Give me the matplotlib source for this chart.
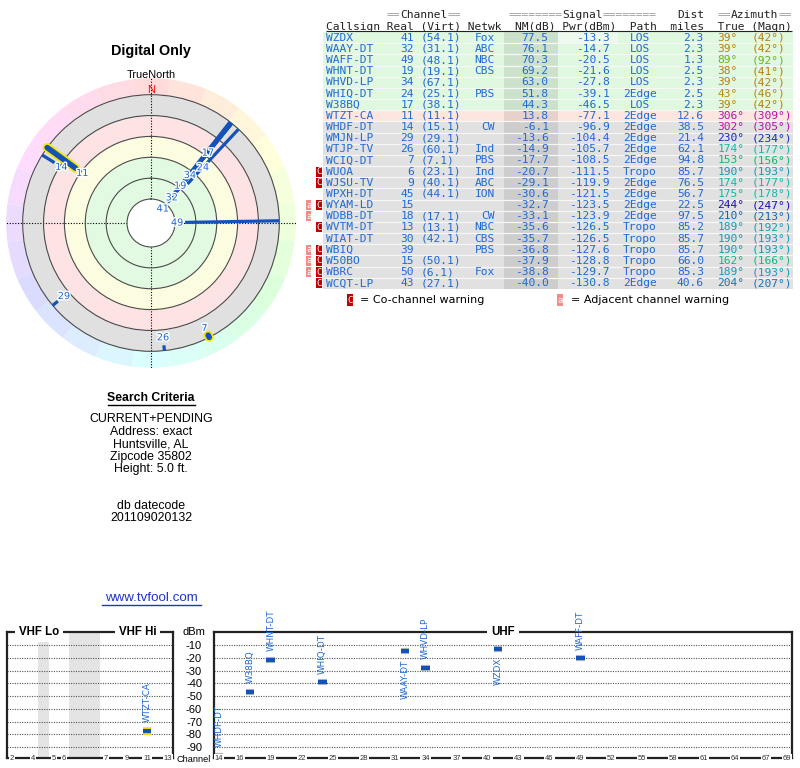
import colorsys
import numpy as np
import matplotlib
matplotlib.use('Agg')
import matplotlib.pyplot as plt
import matplotlib.patheffects as pe
from matplotlib.colors import to_rgb
from matplotlib.lines import Line2D

# Datos de la tabla (tvfool, Huntsville AL)
callsigns = ['WZDX', 'WAAY-DT', 'WAFF-DT', 'WHNT-DT', 'WHVD-LP', 'WHIQ-DT', 'W38BQ',
             'WTZT-CA', 'WHDF-DT', 'WMJN-LP', 'WTJP-TV', 'WCIQ-DT', 'WUOA', 'WJSU-TV',
             'WPXH-DT', 'WYAM-LD', 'WDBB-DT', 'WVTM-DT', 'WIAT-DT', 'WBIQ', 'W50BO',
             'WBRC', 'WCQT-LP']
real_ch = [41, 32, 49, 19, 34, 24, 17, 11, 14, 29, 26, 7, 6, 9, 45, 15, 18, 13, 30, 39, 15, 50, 43]
virt_ch = ['54.1', '31.1', '48.1', '19.1', '67.1', '25.1', '38.1', '11.1', '15.1', '29.1', '60.1',
           '7.1', '23.1', '40.1', '44.1', '', '17.1', '13.1', '42.1', '', '50.1', '6.1', '27.1']
networks = ['Fox', 'ABC', 'NBC', 'CBS', '', 'PBS', '', '', 'CW', '', 'Ind', 'PBS', 'Ind', 'ABC',
            'ION', '', 'CW', 'NBC', 'CBS', 'PBS', '', 'Fox', '']
nm_db = [77.5, 76.1, 70.3, 69.2, 63.0, 51.8, 44.3, 13.8, -6.1, -13.6, -14.9, -17.7, -20.7, -29.1,
         -30.6, -32.7, -33.1, -35.6, -35.7, -36.8, -37.9, -38.8, -40.0]
pwr_dbm = [-13.3, -14.7, -20.5, -21.6, -27.8, -39.1, -46.5, -77.1, -96.9, -104.4, -105.7, -108.5,
           -111.5, -119.9, -121.5, -123.5, -123.9, -126.5, -126.5, -127.6, -128.8, -129.7, -130.8]
path = ['LOS', 'LOS', 'LOS', 'LOS', 'LOS', '2Edge', 'LOS', '2Edge', '2Edge', '2Edge', '2Edge',
        '2Edge', 'Tropo', '2Edge', '2Edge', '2Edge', '2Edge', 'Tropo', 'Tropo', 'Tropo', 'Tropo',
        'Tropo', '2Edge']
dist_mi = [2.3, 2.3, 1.3, 2.5, 2.3, 2.5, 2.3, 12.6, 38.5, 21.4, 62.1, 94.8, 85.7, 76.5, 56.7,
           22.5, 97.5, 85.2, 85.7, 85.7, 66.0, 85.3, 40.6]
az_true = [39, 39, 89, 38, 39, 43, 39, 306, 302, 230, 174, 153, 190, 174, 175, 244, 210, 189,
           190, 190, 162, 189, 204]
az_magn = [42, 42, 92, 41, 42, 46, 42, 309, 305, 234, 177, 156, 193, 177, 178, 247, 213, 192,
           193, 193, 166, 193, 207]
co_channel = ['WUOA', 'WJSU-TV', 'WYAM-LD', 'WVTM-DT', 'WBIQ', 'W50BO', 'WBRC', 'WCQT-LP']
adjacent = ['WYAM-LD', 'WDBB-DT', 'WBIQ', 'W50BO', 'WBRC']

dbm_ticks = [-10, -20, -30, -40, -50, -60, -70, -80, -90]
vhf_ticks = [2, 4, 5, 6, 7, 9, 11, 13]
uhf_ticks = [14, 16, 19, 22, 25, 28, 31, 34, 37, 40, 43, 46, 49, 52, 55, 58, 61, 64, 67, 69]

criteria = ['CURRENT+PENDING', 'Address: exact', 'Huntsville, AL', 'Zipcode 35802',
            'Height: 5.0 ft.']
datecode = '201109020132'

W, H = 800, 768
BLUE = '#1f6ad4'
MONO = 'DejaVu Sans Mono'
plt.rcParams['font.family'] = ['Liberation Sans', 'DejaVu Sans']
plt.rcParams['axes.unicode_minus'] = False


def px_box(l, t, r, b):
    return [l / W, 1 - b / H, (r - l) / W, (b - t) / H]


def ftext(x, y, s, **kw):
    return fig.text(x / W, 1 - y / H, s, **kw)


def az_color(az, s=0.9, v=0.72):
    return colorsys.hsv_to_rgb((az % 360) / 360.0, s, v)


def row_color(nm):
    if nm >= 40:
        return '#e0f7e0'
    if nm >= 20:
        return '#fbfbdc'
    if nm >= 0:
        return '#fde6e0'
    return '#e1e1e1'


def vhf_slot(ch):
    if ch <= 4:
        return ch - 2 + 0.5
    if ch <= 6:
        return ch - 5 + 4.5
    return ch - 7 + 9.5


fig = plt.figure(figsize=(W / 100, H / 100), dpi=100)

# ---- radar ----
ftext(151, 51, 'Digital Only', ha='center', va='center', fontsize=10.4, fontweight='bold')
ftext(151, 75, 'TrueNorth', ha='center', va='center', fontsize=7.8)

ax = fig.add_axes(px_box(6, 78, 296, 368), projection='polar')
ax.set_theta_zero_location('N')
ax.set_theta_direction(-1)
ax.set_ylim(-80, 36)
ax.set_rorigin(-103)
th = np.linspace(0, 2 * np.pi, 361)
for lo, hi, c in [(-80, -40, '#e2fae2'), (-40, -20, '#fcfce0'), (-20, 0, '#fde3e3'), (0, 20, '#e0e0e0')]:
    ax.fill_between(th, lo, hi, color=c, lw=0, zorder=0.3)
seg = np.arange(0, 360, 15)
ax.bar(np.deg2rad(seg), 16, width=np.deg2rad(15), bottom=20,
       color=[az_color(a, 0.14, 1.0) for a in seg], lw=0, zorder=0.3)
ax.set_xticks(np.deg2rad([0, 90, 180, 270]))
ax.set_xticklabels([])
ax.set_yticks([-60, -40, -20, 0, 20])
ax.set_yticklabels([])
ax.xaxis.grid(True, color='black', lw=0.8, ls=(0, (1, 1.5)))
ax.yaxis.grid(True, color='#4a4a4a', lw=0.8)
ax.spines['polar'].set_visible(False)
ax.spines['inner'].set_color('#4a4a4a')
ax.spines['inner'].set_linewidth(0.8)
ax.text(0, 24.5, 'N', color='red', ha='center', va='center', fontsize=8)

# lineas por estacion (solo las que pasan el circulo exterior)
drawn = sorted([i for i in range(len(callsigns)) if nm_db[i] > -20], key=lambda i: -nm_db[i])
placed = []
for i in drawn:
    t = np.deg2rad(az_true[i])
    r_in = -nm_db[i]
    if real_ch[i] <= 13:
        fx = [pe.Stroke(linewidth=6.5, foreground='#f4e600'), pe.Normal()]
        ax.plot([t, t], [r_in, 20], color='#1452b8', lw=4, solid_capstyle='round',
                path_effects=fx, zorder=4)
    else:
        ax.plot([t, t], [r_in, 20], color='#1452b8', lw=2.3, solid_capstyle='butt', zorder=4)
    r_lab = r_in - 7.7
    for a_prev, r_prev in placed:
        if abs(a_prev - az_true[i]) < 10 and r_lab < r_prev + 13.8:
            r_lab = r_prev + 13.8
    placed.append((az_true[i], r_lab))
    ax.text(t, r_lab, str(real_ch[i]), color=BLUE, ha='center', va='center', fontsize=7,
            family='DejaVu Sans', zorder=5,
            path_effects=[pe.withStroke(linewidth=2, foreground='white')])

# ---- criterios de busqueda ----
ftext(151, 398, 'Search Criteria', ha='center', va='center', fontsize=8.8, fontweight='bold')
fig.add_artist(Line2D([108 / W, 195 / W], [1 - 405 / H, 1 - 405 / H], color='black', lw=1))
for k, line in enumerate(criteria):
    ftext(151, 419.5 + 12.4 * k, line, ha='center', va='center', fontsize=8.9)
ftext(151, 506, 'db datecode', ha='center', va='center', fontsize=8.9)
ftext(151, 518, datecode, ha='center', va='center', fontsize=8.9)
ftext(151, 598, 'www.tvfool.com', ha='center', va='center', fontsize=9.6, color='#2233cc')
fig.add_artist(Line2D([102 / W, 201 / W], [1 - 604.5 / H, 1 - 604.5 / H], color='#2233cc', lw=1))

# ---- tabla ----
tab = fig.add_axes(px_box(304.4, 7.57, 793, 306.7))
tab.set_xlim(-3.2, 69.2)
tab.set_ylim(24.1, -2.7)
tab.axis('off')
rows = np.arange(len(callsigns))
row_bg = [row_color(v) for v in nm_db]
tab.barh(rows, 69.7, left=-0.5, height=1.0, color=row_bg, lw=0)
tab.barh(rows, 8.0, left=26.4, height=1.0,
         color=[tuple(0.91 * v for v in to_rgb(c)) for c in row_bg], lw=0)
tab.barh(0, 8.9, left=34.4, height=1.0, color='#eef9ee', lw=0)
tab.hlines(rows[:-1] + 0.5, -0.5, 69.2, color='#f7f7f7', lw=0.9)

tk = dict(family=MONO, fontsize=8.07, va='center')
GR, DK = '#9a9a9a', '#222222'
for col, s, c in [(9, '==', GR), (11, 'Channel', DK), (18, '==', GR), (27, '========', GR),
                  (35, 'Signal', DK), (41, '========', GR), (52, 'Dist', DK), (58, '==', GR),
                  (60, 'Azimuth', DK), (67, '==', GR)]:
    tab.text(col, -2, s, color=c, ha='left', **tk)
tab.text(0, -1, 'Callsign Real (Virt) Netwk  NM(dB) Pwr(dBm)  Path  miles  True (Magn)',
         color=DK, ha='left', **tk)
tab.hlines(-0.6, 0, 69, color=DK, lw=0.8)

for i in rows:
    tab.text(0, i, callsigns[i], color=BLUE, ha='left', **tk)
    tab.text(13, i, str(real_ch[i]), color=BLUE, ha='right', **tk)
    if virt_ch[i]:
        tab.text(14, i, '(' + virt_ch[i] + ')', color=BLUE, ha='left', **tk)
    tab.text(25, i, networks[i], color=BLUE, ha='right', **tk)
    tab.text(33, i, f'{nm_db[i]:.1f}', color=BLUE, ha='right', **tk)
    tab.text(42, i, f'{pwr_dbm[i]:.1f}', color=BLUE, ha='right', **tk)
    tab.text(46.5, i, path[i], color=BLUE, ha='center', **tk)
    tab.text(56, i, f'{dist_mi[i]:.1f}', color=BLUE, ha='right', **tk)
    c = az_color(az_true[i])
    tab.text(58, i, f'{az_true[i]}°', color=c, ha='left', **tk)
    tab.text(63, i, f'({az_magn[i]}°)', color=c, ha='left', **tk)

wk = dict(family=MONO, fontsize=6.5, color='white', ha='center', va='center')
co_rows = [callsigns.index(s) for s in co_channel]
adj_rows = [callsigns.index(s) for s in adjacent]
tab.barh(co_rows, 0.85, left=-1.45, height=0.9, color='#c40000', lw=0)
tab.barh(adj_rows, 0.8, left=-2.95, height=0.9, color='#f58a8a', lw=0)
for r in co_rows:
    tab.text(-1.03, r, 'C', **wk)
for r in adj_rows:
    tab.text(-2.55, r, 'a', **wk)

tab.barh(23.5, 0.93, left=3.07, height=1.0, color='#c40000', lw=0)
tab.text(3.53, 23.5, 'C', **wk)
tab.text(5.0, 23.5, '= Co-channel warning', family='DejaVu Sans', fontsize=8, va='center')
tab.barh(23.5, 0.9, left=34.2, height=1.0, color='#f58a8a', lw=0)
tab.text(34.65, 23.5, 'a', **wk)
tab.text(36.3, 23.5, '= Adjacent channel warning', family='DejaVu Sans', fontsize=8, va='center')

# ---- espectro por canal ----
vhf = fig.add_axes(px_box(7, 632.25, 173, 758))
uhf = fig.add_axes(px_box(214, 632.25, 792, 758))
for a in (vhf, uhf):
    a.set_ylim(-98.6, 0)
    a.set_yticks(dbm_ticks)
    a.yaxis.grid(True, color='#555555', lw=0.8, ls=(0, (1, 1.2)))
    a.tick_params(length=0)
    a.set_xticks([])
    for s in a.spines.values():
        s.set_linewidth(1.6)
        s.set_color('#222222')
vhf.set_xlim(0, 16)
vhf.set_yticklabels([])
vhf.axvspan(3, 4, color='#e4e4e4', lw=0, zorder=0)
vhf.axvspan(6, 9, color='#e4e4e4', lw=0, zorder=0)
uhf.set_xlim(13.5, 69.5)
uhf.set_yticklabels([str(v) for v in dbm_ticks])
uhf.tick_params(axis='y', pad=8.6, labelsize=8)

lk = dict(ha='center', va='center', fontsize=5.5, color='#333333', zorder=5, clip_on=False,
          bbox=dict(fc='white', ec='none', pad=0.6))
for ch in vhf_ticks:
    vhf.text(vhf_slot(ch), 0, str(ch), transform=vhf.get_xaxis_transform(), **lk)
for ch in uhf_ticks:
    uhf.text(ch, 0, str(ch), transform=uhf.get_xaxis_transform(), **lk)

for i, name in enumerate(callsigns):
    ch, p = real_ch[i], pwr_dbm[i]
    if ch <= 13:
        a, x = vhf, vhf_slot(ch)
        fx = [pe.Stroke(linewidth=5.5, foreground='#f4e600'), pe.Normal()]
    else:
        a, x = uhf, ch
        fx = [pe.Stroke(linewidth=4.5, foreground='#bbbbbb'), pe.Normal()]
    a.plot([x - 0.42, x + 0.42], [p, p], color='#1452b8', lw=3, solid_capstyle='butt',
           path_effects=fx, zorder=4)
    below = p > -18
    a.annotate(name, (x, p), xytext=(0, -6 if below else 6), textcoords='offset points',
               rotation=90, ha='center', va='top' if below else 'bottom', fontsize=6.3,
               color=BLUE, family='DejaVu Sans', annotation_clip=True)

tb = dict(ha='center', va='center', fontsize=8.3, fontweight='bold',
          bbox=dict(fc='white', ec='none', pad=3))
ftext(39, 632, 'VHF Lo', **tb)
ftext(137.5, 632, 'VHF Hi', **tb)
ftext(503, 632, 'UHF', **tb)
ftext(194, 632, 'dBm', ha='center', va='center', fontsize=8)
ftext(194, 759, 'Channel', ha='center', va='center', fontsize=6.6)

fig.savefig('out.png', dpi=100)
